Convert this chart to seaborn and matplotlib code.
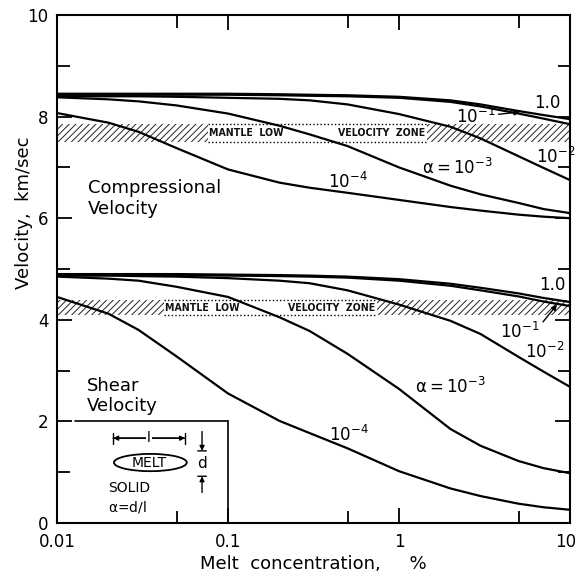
import matplotlib
matplotlib.use("Agg")
import matplotlib.pyplot as plt
import matplotlib.transforms as mtransforms
import seaborn as sns
import pandas as pd
from matplotlib.patches import Ellipse
from matplotlib.ticker import FixedLocator, NullFormatter

# ---------------- data ----------------
conc = [0.01, 0.02, 0.03, 0.05, 0.1, 0.2, 0.3, 0.5, 1, 2, 3, 5, 7, 10]  # melt concentration, %

# Compressional velocity (km/s) for aspect ratios alpha
vp_1e0 = [8.45, 8.45, 8.45, 8.45, 8.45, 8.44, 8.43, 8.42, 8.39, 8.32, 8.24, 8.11, 8.03, 7.95]
vp_1e1 = [8.43, 8.43, 8.43, 8.43, 8.43, 8.42, 8.41, 8.40, 8.37, 8.29, 8.20, 8.06, 7.96, 7.85]
vp_1e2 = [8.40, 8.40, 8.40, 8.39, 8.37, 8.35, 8.32, 8.24, 8.05, 7.80, 7.57, 7.22, 6.99, 6.75]
vp_1e3 = [8.38, 8.34, 8.30, 8.22, 8.06, 7.82, 7.65, 7.42, 7.00, 6.64, 6.47, 6.30, 6.18, 6.10]
vp_1e4 = [8.07, 7.88, 7.70, 7.38, 6.96, 6.70, 6.60, 6.50, 6.36, 6.22, 6.15, 6.07, 6.03, 6.00]

# Shear velocity (km/s)
vs_1e0 = [4.90, 4.90, 4.90, 4.90, 4.89, 4.88, 4.87, 4.85, 4.80, 4.71, 4.63, 4.52, 4.43, 4.35]
vs_1e1 = [4.88, 4.88, 4.88, 4.88, 4.87, 4.86, 4.85, 4.83, 4.77, 4.67, 4.58, 4.46, 4.36, 4.27]
vs_1e2 = [4.87, 4.87, 4.86, 4.85, 4.82, 4.77, 4.72, 4.58, 4.30, 3.98, 3.72, 3.27, 2.98, 2.68]
vs_1e3 = [4.85, 4.81, 4.77, 4.65, 4.45, 4.05, 3.78, 3.33, 2.64, 1.85, 1.52, 1.22, 1.08, 0.98]
vs_1e4 = [4.45, 4.12, 3.80, 3.28, 2.55, 2.01, 1.77, 1.47, 1.02, 0.68, 0.53, 0.38, 0.31, 0.26]

alphas = ["1.0", "1e-1", "1e-2", "1e-3", "1e-4"]

# Mantle low velocity zone bands (km/s) and hatched / text extents (%)
lvz_p = [7.50, 7.85]
lvz_s = [4.10, 4.38]
lvz_p_text_span = [0.076, 1.45]
lvz_s_text_span = [0.042, 0.74]

xticks = [0.01, 0.1, 1, 10]
xticklabels = ["0.01", "0.1", "1", "10"]
xminor = [0.05, 0.5, 5]
yticks = [0, 2, 4, 6, 8, 10]
yminor = [1, 3, 5, 7, 9]

# ---------------- long-form table ----------------
rows = []
for wave, curves in [("P", [vp_1e0, vp_1e1, vp_1e2, vp_1e3, vp_1e4]),
                     ("S", [vs_1e0, vs_1e1, vs_1e2, vs_1e3, vs_1e4])]:
    for a, vals in zip(alphas, curves):
        for c, v in zip(conc, vals):
            rows.append({"wave": wave, "alpha": a, "conc": c, "vel": v,
                         "curve": wave + a})
df = pd.DataFrame(rows)

# ---------------- style ----------------
sns.set_theme(style="ticks")
plt.rcParams.update({
    "font.family": ["DejaVu Sans"],
    "mathtext.fontset": "dejavusans",
    "mathtext.default": "regular",
    "axes.linewidth": 1.5,
    "axes.edgecolor": "black",
    "axes.labelcolor": "black",
    "text.color": "black",
    "hatch.linewidth": 0.7,
    "hatch.color": "#222222",
    "xtick.color": "black",
    "ytick.color": "black",
    "xtick.labelcolor": "black",
    "ytick.labelcolor": "black",
})

fig = plt.figure(figsize=(5.78, 5.73), dpi=100)
fig.patch.set_facecolor("white")
ax = fig.add_axes([57 / 578, 1 - 523 / 573, (570 - 57) / 578, (523 - 15) / 573])
ax.set_xscale("log")

# ---------------- low velocity zones ----------------
for band, span in [(lvz_p, lvz_p_text_span), (lvz_s, lvz_s_text_span)]:
    lo, hi = band
    x0, x1 = span
    for xa, xb in [(conc[0], x0), (x1, conc[-1])]:
        ax.fill_between([xa, xb], lo, hi, facecolor="none", edgecolor="#222222",
                        hatch="/////", linewidth=0, zorder=1)
    for yy in (lo, hi):
        ax.plot([x0, x1], [yy, yy], color="black", lw=1.0, ls=(0, (1, 1.6)), zorder=1)

band_font = dict(family=["DejaVu Sans"], fontweight="bold", fontstretch="condensed",
                 fontsize=7.6, va="center", color="#111111")
ax.text(lvz_p_text_span[0] * 1.02, sum(lvz_p) / 2, "MANTLE  LOW", ha="left", **band_font)
ax.text(lvz_p_text_span[1] * 0.98, sum(lvz_p) / 2, "VELOCITY  ZONE", ha="right", **band_font)
ax.text(lvz_s_text_span[0] * 1.02, sum(lvz_s) / 2, "MANTLE  LOW", ha="left", **band_font)
ax.text(lvz_s_text_span[1] * 0.98, sum(lvz_s) / 2, "VELOCITY  ZONE", ha="right", **band_font)

# ---------------- curves ----------------
sns.lineplot(data=df, x="conc", y="vel", units="curve", estimator=None,
             color="black", lw=1.6, ax=ax, legend=False, sort=False, zorder=3)

# ---------------- axes ----------------
ax.set_xlim(0.01, 10)
ax.set_ylim(0, 10)
ax.set_xticks(xticks)
ax.set_xticklabels(xticklabels)
ax.xaxis.set_minor_locator(FixedLocator(xminor))
ax.xaxis.set_minor_formatter(NullFormatter())
ax.set_yticks(yticks)
ax.set_yticklabels([str(t) for t in yticks])
ax.yaxis.set_minor_locator(FixedLocator(yminor))
ax.tick_params(which="both", direction="in", top=True, right=True, width=1.3,
               labelsize=12)
ax.tick_params(which="major", length=11, pad=6)
ax.tick_params(axis="x", which="major", pad=7)
ax.tick_params(which="minor", length=9)
ax.set_xlabel("Melt  concentration,     %", fontsize=13, labelpad=3)
ax.set_ylabel("Velocity,  km/sec", fontsize=13)
ax.yaxis.set_label_coords(-0.047, 0.61)
for s in ax.spines.values():
    s.set_linewidth(1.5)

# keep the last x tick label ("10") inside the figure, as in the reference
last_lab = ax.xaxis.get_major_ticks()[-1].label1
last_lab.set_horizontalalignment("right")
last_lab.set_transform(last_lab.get_transform()
                       + mtransforms.ScaledTranslation(0.06, 0, fig.dpi_scale_trans))

# ---------------- labels ----------------
lab = dict(fontsize=12, ha="center", va="center", zorder=4)
ax.text(0.0152, 6.39, "Compressional\nVelocity", fontsize=13, ha="left", va="center",
        linespacing=1.2)
ax.text(0.015, 2.5, "Shear\nVelocity", fontsize=13, ha="left", va="center",
        linespacing=1.2)

ax.text(7.4, 8.27, "1.0", **lab)
ax.annotate(r"$10^{-1}$", xy=(5.1, 8.09), xytext=(2.8, 8.0), fontsize=12,
            ha="center", va="center",
            arrowprops=dict(arrowstyle="-|>", color="black", lw=1.0,
                            mutation_scale=8, shrinkA=0, shrinkB=0, relpos=(1, 0.6)))
ax.text(8.2, 7.2, r"$10^{-2}$", **lab)
ax.text(2.2, 6.98, r"$\alpha = 10^{-3}$", **lab)
ax.text(0.5, 6.71, r"$10^{-4}$", **lab)

ax.text(7.9, 4.69, "1.0", **lab)
ax.annotate(r"$10^{-1}$", xy=(8.4, 4.30), xytext=(5.1, 3.76), fontsize=12,
            ha="center", va="center",
            arrowprops=dict(arrowstyle="-|>", color="black", lw=1.0,
                            mutation_scale=8, shrinkA=0, shrinkB=0, relpos=(1, 0.8)))
ax.text(7.1, 3.37, r"$10^{-2}$", **lab)
ax.text(2.0, 2.68, r"$\alpha = 10^{-3}$", **lab)
ax.text(0.51, 1.73, r"$10^{-4}$", **lab)

# ---------------- inset sketch ----------------
inset_x = [0.0127, 0.1]
inset_top = 2.0
ax.plot(inset_x, [inset_top, inset_top], color="black", lw=1.2, zorder=2)
ax.plot([inset_x[1], inset_x[1]], [0, inset_top], color="black", lw=1.2, zorder=2)

ax.add_patch(Ellipse((0.182, 0.119), 0.142, 0.034, transform=ax.transAxes,
                     facecolor="white", edgecolor="black", lw=1.3, zorder=3))
ax.text(0.0345, 1.19, "MELT", fontsize=10, ha="center", va="center", zorder=4)

lx0, lx1, ly = 0.0213, 0.0561, 1.67
ax.annotate("", xy=(lx1, ly), xytext=(lx0, ly),
            arrowprops=dict(arrowstyle="|-|", lw=1.0, color="black",
                            mutation_scale=4, shrinkA=0, shrinkB=0))
ax.annotate("", xy=(lx1, ly), xytext=(lx0, ly),
            arrowprops=dict(arrowstyle="<|-|>", lw=1.0, color="black",
                            mutation_scale=7, shrinkA=0, shrinkB=0))
ax.text((lx0 * lx1) ** 0.5, ly, "l", fontsize=10, ha="center", va="center",
        bbox=dict(facecolor="white", edgecolor="none", pad=1.0), zorder=4)

dx = 0.0705
ax.annotate("", xy=(dx, 1.42), xytext=(dx, 1.80),
            arrowprops=dict(arrowstyle="-|>", lw=1.0, color="black",
                            mutation_scale=7, shrinkA=0, shrinkB=0))
ax.annotate("", xy=(dx, 0.92), xytext=(dx, 0.60),
            arrowprops=dict(arrowstyle="-|>", lw=1.0, color="black",
                            mutation_scale=7, shrinkA=0, shrinkB=0))
ax.annotate("", xy=(dx * 1.06, 1.42), xytext=(dx / 1.06, 1.42),
            arrowprops=dict(arrowstyle="-", lw=1.0, color="black", shrinkA=0, shrinkB=0))
ax.annotate("", xy=(dx * 1.06, 0.92), xytext=(dx / 1.06, 0.92),
            arrowprops=dict(arrowstyle="-", lw=1.0, color="black", shrinkA=0, shrinkB=0))
ax.text(dx, 1.17, "d", fontsize=11, ha="center", va="center")

ax.text(0.0199, 0.69, "SOLID", fontsize=10, ha="left", va="center")
ax.text(0.0199, 0.32, r"$\alpha$=d/l", fontsize=10, ha="left", va="center")

fig.savefig("out.png", dpi=100, facecolor="white")
